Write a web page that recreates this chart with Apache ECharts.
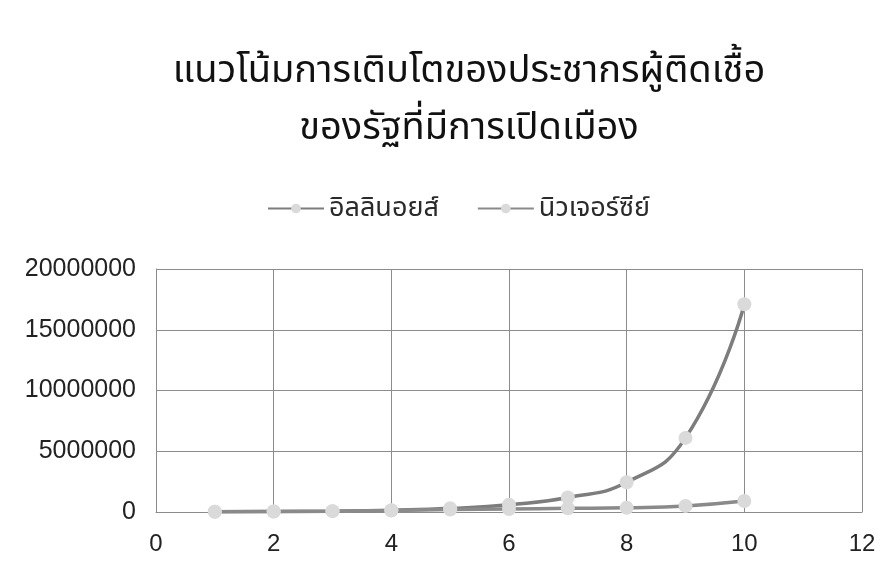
<!DOCTYPE html>
<html>
<head>
<meta charset="utf-8" />
<title>แนวโน้มการเติบโต</title>
<script src="https://cdn.jsdelivr.net/npm/echarts@6/dist/echarts.min.js"></script>
<style>
  html, body { margin: 0; padding: 0; background: #fff; }
  #main { width: 891px; height: 578px; }
</style>
</head>
<body>
<div id="main"></div>
<script>
// ข้อมูล (อ่านค่าจากภาพ)
var weeks = [1, 2, 3, 4, 5, 6, 7, 8, 9, 10];
var illinois = [20000, 40000, 70000, 150000, 300000, 600000, 1200000, 2450000, 6100000, 17100000];
var newJersey = [20000, 40000, 70000, 120000, 200000, 250000, 300000, 350000, 500000, 900000];
var seriesNames = ['อิลลินอยส์', 'นิวเจอร์ซีย์'];

function pairs(vals) {
  return weeks.map(function (w, i) { return [w, vals[i]]; });
}

var chart = echarts.init(document.getElementById('main'));
var thaiFont = '"Noto Sans", "Noto Sans Thai", "DejaVu Sans", sans-serif';

var option = {
  backgroundColor: '#fff',
  animation: false,
  title: {
    text: 'แนวโน้มการเติบโตของประชากรผู้ติดเชื้อ\nของรัฐที่มีการเปิดเมือง',
    left: 464,
    textAlign: 'center',
    top: 38,
    textStyle: {
      fontFamily: thaiFont,
      fontSize: 38,
      fontWeight: 'normal',
      color: '#111',
      lineHeight: 57
    }
  },
  legend: {
    top: 190,
    left: 262,
    itemWidth: 56,
    itemHeight: 12,
    itemGap: 38,
    textStyle: { fontFamily: thaiFont, fontSize: 27, color: '#2a2a2a' },
    data: seriesNames
  },
  grid: { left: 156, right: 29, top: 269, bottom: 66 },
  xAxis: {
    type: 'value',
    min: 0,
    max: 12,
    interval: 2,
    axisLine: { show: true, lineStyle: { color: '#8c8c8c' } },
    axisTick: { show: false },
    axisLabel: { fontFamily: 'Liberation Sans', fontSize: 24, color: '#222', margin: 20 },
    splitLine: { show: true, lineStyle: { color: '#8c8c8c' } }
  },
  yAxis: {
    type: 'value',
    min: 0,
    max: 20000000,
    interval: 5000000,
    axisLine: { show: true, lineStyle: { color: '#8c8c8c' } },
    axisTick: { show: false },
    axisLabel: {
      fontFamily: 'Liberation Sans', fontSize: 25, color: '#222', margin: 20,
      formatter: function (v) { return String(v); }
    },
    splitLine: { show: true, lineStyle: { color: '#8c8c8c' } }
  },
  series: [
    {
      name: seriesNames[0],
      type: 'line',
      smooth: true,
      data: pairs(illinois),
      symbol: 'circle',
      symbolSize: 14,
      lineStyle: { color: '#7d7d7d', width: 3.5 },
      itemStyle: { color: '#dadada', borderWidth: 0 }
    },
    {
      name: seriesNames[1],
      type: 'line',
      smooth: true,
      data: pairs(newJersey),
      symbol: 'circle',
      symbolSize: 14,
      lineStyle: { color: '#8a8a8a', width: 3.5 },
      itemStyle: { color: '#dadada', borderWidth: 0 }
    }
  ]
};

chart.setOption(option);
</script>
</body>
</html>
